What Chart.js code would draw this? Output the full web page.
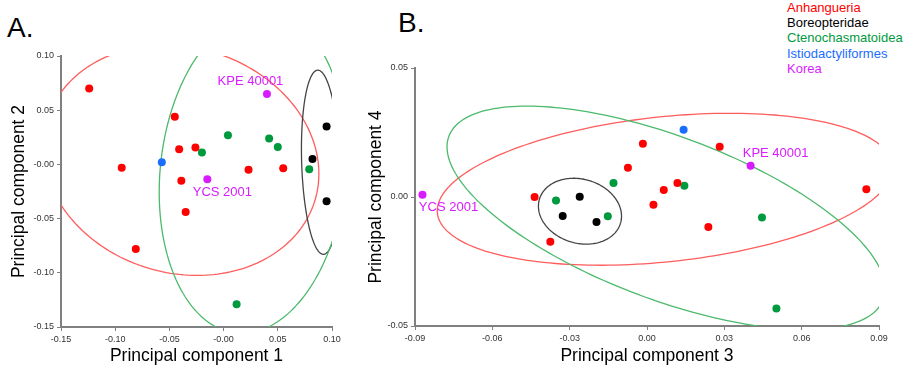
<!DOCTYPE html>
<html>
<head>
<meta charset="utf-8">
<script src="https://cdn.jsdelivr.net/npm/chart.js@4/dist/chart.umd.min.js"></script>
<style>
  body { margin: 0; background: #fff; width: 913px; height: 374px; overflow: hidden; position: relative;
         font-family: "Liberation Sans", Arial, sans-serif; }
  canvas { position: absolute; top: 0; }
  #cA { left: 0; }
  #cB { left: 345px; }
  .panel { position: absolute; font-size: 28px; color: #000; }
  #legend { position: absolute; left: 787px; top: 0; font-size: 13px; line-height: 15.2px; }
</style>
</head>
<body>
<div class="panel" style="left:7px;top:12px">A.</div>
<div class="panel" style="left:398px;top:7px">B.</div>
<div id="legend"></div>
<canvas id="cA" width="350" height="374"></canvas>
<canvas id="cB" width="568" height="374"></canvas>
<script>
// PCA scores, panel A (PC1 vs PC2)
const anhA = [[-0.124, 0.070], [-0.094, -0.003], [-0.081, -0.078], [-0.045, 0.044], [-0.041, 0.014],
              [-0.026, 0.0155], [-0.039, -0.015], [-0.035, -0.044], [0.023, -0.005], [0.055, -0.0036]];
const borA = [[0.095, 0.035], [0.082, 0.005], [0.095, -0.034]];
const cteA = [[-0.020, 0.011], [0.004, 0.027], [0.042, 0.024], [0.050, 0.016], [0.079, -0.0045], [0.012, -0.129]];
const istA = [[-0.057, 0.002]];
const korA = [[0.040, 0.065], [-0.015, -0.0137]];

// panel B (PC3 vs PC4)
const anhB = [[-0.0436, 0.0], [-0.0375, -0.0173], [-0.0074, 0.0113], [-0.0016, 0.0206], [0.0025, -0.003],
              [0.0065, 0.0027], [0.0118, 0.0054], [0.0238, -0.0116], [0.0282, 0.0195], [0.0851, 0.003]];
const borB = [[-0.0261, 0.0001], [-0.0327, -0.0074], [-0.0196, -0.0097]];
const cteB = [[-0.0353, -0.0014], [-0.0152, -0.0075], [-0.013, 0.0054], [0.0145, 0.0044], [0.0446, -0.0079], [0.0502, -0.0432]];
const istB = [[0.0142, 0.0261]];
const korB = [[0.0402, 0.0121], [-0.0871, 0.0009]];

const korNames = ['KPE 40001', 'YCS 2001'];
const groups = ['Anhangueria', 'Boreopteridae', 'Ctenochasmatoidea', 'Istiodactyliformes', 'Korea'];
const groupColors = ['#ff0000', '#000000', '#009a3e', '#1a6dff', '#d91cff'];

// ellipses per group: [centre x, centre y, semi-major, semi-minor, angle in degrees]
const ellipseA = [[-0.0393, 0.0038, 0.129, 0.104, -16.4], [0.0895, 0.002, 0.085, 0.0175, 91.8], [0.027, -0.008, 0.1485, 0.0855, 84.1]];
const ellipseB = [[0.007, 0.003, 0.0888, 0.0281, 6.0], [-0.026, -0.0055, 0.0164, 0.0124, -16.4], [0.0074, -0.0081, 0.090, 0.0316, -20.6]];
const ellipseColors = ['#ff5c5c', '#444444', '#4cba6c'];

// tick labels
const xTicksA = [-0.15, -0.10, -0.05, 0, 0.05, 0.10];
const xLabelsA = ['-0.15', '-0.10', '-0.05', '-0.00', '0.05', '0.10'];
const yTicksA = [-0.15, -0.10, -0.05, 0, 0.05, 0.10];
const yLabelsA = ['-0.15', '-0.10', '-0.05', '-0.00', '0.05', '0.10'];
const xTicksB = [-0.09, -0.06, -0.03, 0, 0.03, 0.06, 0.09];
const xLabelsB = ['-0.09', '-0.06', '-0.03', '0.00', '0.03', '0.06', '0.09'];
const yTicksB = [-0.05, 0, 0.05];
const yLabelsB = ['-0.05', '0.00', '0.05'];

const FONT = '"Liberation Sans", Arial, sans-serif';

document.getElementById('legend').innerHTML = groups
  .map((g, i) => '<div style="color:' + groupColors[i] + '">' + g + '</div>').join('');

const ellipsePlugin = {
  id: 'ellipses',
  beforeDatasetsDraw(chart, args, opts) {
    const { ctx, chartArea: ca, scales: { x, y } } = chart;
    ctx.save();
    ctx.beginPath();
    ctx.rect(ca.left, ca.top, ca.right - ca.left, ca.bottom - ca.top);
    ctx.clip();
    ctx.lineWidth = 1.3;
    opts.list.forEach((e, i) => {
      const [cx, cy, a, b, ang] = e;
      const r = ang * Math.PI / 180;
      ctx.strokeStyle = ellipseColors[i];
      ctx.beginPath();
      for (let k = 0; k <= 200; k++) {
        const t = k / 200 * 2 * Math.PI;
        const u = a * Math.cos(t), v = b * Math.sin(t);
        const px = x.getPixelForValue(cx + u * Math.cos(r) - v * Math.sin(r));
        const py = y.getPixelForValue(cy + u * Math.sin(r) + v * Math.cos(r));
        if (k === 0) ctx.moveTo(px, py); else ctx.lineTo(px, py);
      }
      ctx.stroke();
    });
    ctx.restore();
  },
  afterDatasetsDraw(chart, args, opts) {
    const ctx = chart.ctx;
    const meta = chart.getDatasetMeta(4);
    ctx.save();
    ctx.fillStyle = groupColors[4];
    ctx.font = '13px ' + FONT;
    ctx.textAlign = 'center';
    ctx.textBaseline = 'middle';
    meta.data.forEach((pt, i) => {
      const off = opts.offsets[i];
      ctx.fillText(korNames[i], pt.x + off[0], pt.y + off[1]);
    });
    ctx.restore();
  }
};

function makeSets(anh, bor, cte, ist, kor) {
  return [anh, bor, cte, ist, kor].map((d, i) => ({
    label: groups[i],
    data: d.map(p => ({ x: p[0], y: p[1] })),
    backgroundColor: groupColors[i],
    pointRadius: 4,
    pointHoverRadius: 4,
    borderWidth: 0
  }));
}

function makeAxis(min, max, vals, labels, title, size, titlePad, vertical) {
  return {
    type: 'linear',
    min: min,
    max: max,
    afterBuildTicks: s => { s.ticks = vals.map(v => ({ value: v })); },
    afterFit: s => { if (vertical) s.width = size; else s.height = size; },
    ticks: {
      callback: (v, i) => labels[i],
      font: { size: 9, family: FONT },
      color: '#333',
      padding: 3,
      maxRotation: 0,
      autoSkip: false
    },
    grid: { drawOnChartArea: false, tickLength: 4, color: '#808080', lineWidth: 1 },
    border: { color: '#808080', width: 2 },
    title: {
      display: true,
      text: title,
      color: '#000',
      font: { size: 17.5, family: FONT },
      padding: vertical ? { top: titlePad, bottom: 0 } : { top: 0, bottom: titlePad }
    }
  };
}

function makeChart(id, datasets, xAxis, yAxis, pad, ellipses, offsets) {
  return new Chart(document.getElementById(id), {
    type: 'scatter',
    data: { datasets: datasets },
    options: {
      responsive: false,
      animation: false,
      devicePixelRatio: 1,
      layout: { padding: pad },
      scales: { x: xAxis, y: yAxis },
      plugins: {
        legend: { display: false },
        tooltip: { enabled: false },
        ellipses: { list: ellipses, offsets: offsets }
      }
    },
    plugins: [ellipsePlugin]
  });
}

makeChart('cA', makeSets(anhA, borA, cteA, istA, korA),
  makeAxis(-0.15, 0.10, xTicksA, xLabelsA, 'Principal component 1', 47, 7.5, false),
  makeAxis(-0.15, 0.10, yTicksA, yLabelsA, 'Principal component 2', 61, 9, true),
  { left: 0, top: 56, right: 18, bottom: 0 },
  ellipseA, [[-16.5, -12.5], [15, 12.7]]);

makeChart('cB', makeSets(anhB, borB, cteB, istB, korB),
  makeAxis(-0.09, 0.09, xTicksB, xLabelsB, 'Principal component 3', 48, 7.5, false),
  makeAxis(-0.05, 0.05, yTicksB, yLabelsB, 'Principal component 4', 70, 20.5, true),
  { left: 0, top: 68, right: 34, bottom: 0 },
  ellipseB, [[25, -12], [26, 12.3]]);
</script>
</body>
</html>
